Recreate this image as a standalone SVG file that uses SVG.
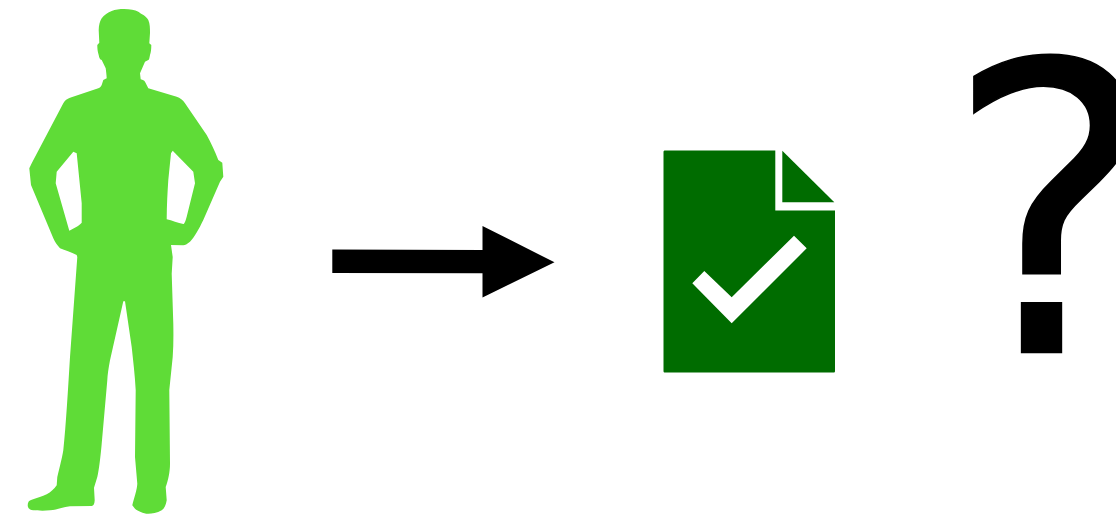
<svg xmlns="http://www.w3.org/2000/svg" width="1116" height="517" viewBox="0 0 1116 517">
<style>
.person{fill:#5fdc37;fill-rule:evenodd}
.doc{fill:#006c00}
.mark{fill:#fff}
.arrow{fill:#000}
.q{font-family:"DejaVu Sans Mono",monospace;font-size:402px;fill:#000;stroke:#000;stroke-width:1.5px}
</style>
<rect width="1116" height="517" fill="#fff"/>
<g id="person">
<path class="person" d="M124 9C130 9 135 10 138.300 11.700C141 14 146 15.500 148.300 20C150 24 150 28 150 33L149.300 43.300L151.300 45C151.300 49 151 52 150 55C149.500 58 149 60 148.300 60L145 61.700L140 73.300L140.700 79.300C143 80 144 80.500 145 81.700L148.300 88.300L176.700 96.700C180 98 183 100 185 103.300L206.700 135C211 143 215 151 218.300 160L222.300 162.700L223.300 176.700L220 181.700L203.300 220C199 229 194 238 190 241.700C187 244 185 245.300 183.300 245.300L171 245L172.700 257L171.700 273.700L173.300 323.700C173.500 335 173.500 346 172.700 357L169.300 390L170 463.700C170 472 168 481 165.700 487L166.700 500.300C166 505 164 509 161.700 510.300C157 513 152 513.700 148.300 513.700C143 513.700 138 511 135 508.700L132.300 505.300C134 498 137 490 137.300 483.700L135 457L135.700 390.300C135 375 133 360 131.700 347L125 301.300L123.300 301.300L110 360.300C108.500 368 107.500 375 107.300 380.300L101.700 443.700C100.500 457 99 470 97.300 477L94 487.700L94.700 500.300C94.500 504 93.500 506 91.700 506L70 506.300C62 506.800 57 510.300 50 510.300C43 511 37 510.500 33.300 510.300C29 509.500 27.700 508 27.700 505.300C27.700 502 29 500.500 31.700 499.700C38 497.500 42 496.500 46.700 494.300C51 492 54 489 56.700 485.300L57.300 477C60 466 62 458 63.300 450.300C66 425 68 390 70 357L77.300 257L76.700 255C71 252 65 250.500 60 248.300C57 245 55 242 53.300 238.300L31 185L29.300 168.300L31.700 163.300L63.300 103.300C65 100 67 99 70 97.700L98.300 88.300C100 87.500 101 86.500 101.700 85L103.300 80L106.700 78.300C106.500 74 106 71 105.700 68.300L101.700 60C100 60 99 57 98.700 55C97.500 51 97.300 48 97.300 45L99.300 42.700L98.700 30C98.700 25 100 21 101.700 18.300C104 15 108 12.500 111.700 11C115 9.500 120 9 124 9Z
M73.300 151.700L76.700 153.300L81.700 203.300L81.700 222.700C80 224.500 78.500 225.800 76.700 226.700L69.300 230.700L55.700 183.300L56.700 171.700Z
M172.700 150.700L193.300 171.700L195 183.300L186.700 216.700C185.500 221 184.500 224 183.300 224C178 223.500 172 220 166.700 219.300C166.800 205 167.500 192 168.300 180L171 153.300Z"/>
</g>
<g id="connectors">
<path class="arrow" d="M332.300 249.500L482.500 250V226L554.500 262.300L482.500 297.500V273.300L332.300 273Z"/>
</g>
<g id="document">
<path class="doc" d="M665 150.500H775.300V210.500H835V371C835 372 834.500 372.500 833.500 372.500H665C664 372.500 663.500 372 663.500 371V152C663.500 151 664 150.500 665 150.500Z"/>
<path class="doc" d="M782.300 150.800L834.300 202.300H782.300Z"/>
<path class="mark" d="M692.300 283.300L704.300 271L731.700 297.300L794 235.700L806.700 248.300L731.700 323.300Z"/>
</g>
<g id="question">
<text class="q" x="926" y="352.500">?</text>
</g>
</svg>
